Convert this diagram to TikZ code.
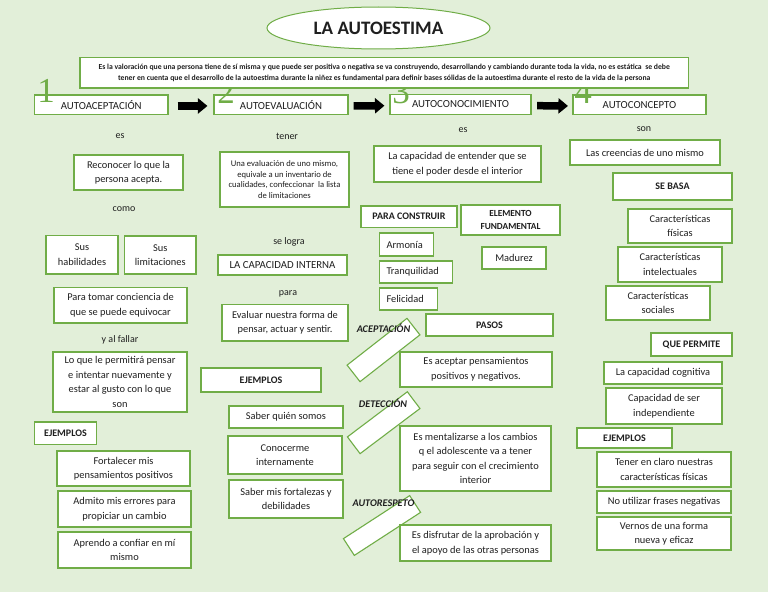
\documentclass[tikz,border=0pt]{standalone}
\usepackage{fontspec}
\setmainfont{Carlito}
\newfontfamily\digitfont{Liberation Serif}
\usetikzlibrary{shapes.geometric,arrows.meta}
\definecolor{bgc}{HTML}{E2EFD9}
\definecolor{gb}{HTML}{70AD47}
\definecolor{txt}{HTML}{1F1F1F}
\newcommand\fs[2]{\fontsize{#1pt}{#2pt}\selectfont}
\newcommand\mybox[7]{\node[box,#1,minimum width={(#5)-(#3)},minimum height={(#6)-(#4)}] (#2) at ({((#3)+(#5))/2},{((#4)+(#6))/2}) {#7};}
\tikzset{
 box/.style={draw=gb, fill=white, line width=1.1pt, inner sep=1pt, align=center, text=txt, font=\fs{10.4}{14.5}},
 hd/.style={font=\fs{10.8}{12}},
 bd/.style={font=\bfseries\fs{10}{12}},
 lbl/.style={text=txt, font=\fs{10}{11}, inner sep=0pt},
 ilbl/.style={text=txt, font=\bfseries\itshape\fs{10.2}{11}, inner sep=0pt},
 num/.style={text=gb, font=\digitfont\fs{35}{35}, anchor=base, inner sep=0pt},
 barrow/.style={line width=7.5pt, -{Triangle[length=9.5pt,width=15pt]}, black},
 tilt/.style={draw=gb, fill=white, line width=1.1pt, inner sep=0pt},
}
\begin{document}
\begin{tikzpicture}[x=1pt,y=-1pt]
\fill[bgc] (0,0) rectangle (768,594);
\useasboundingbox (0,0) rectangle (768,594);
\fill[white] (0,592) rectangle (768,594);

% title
\node[draw=gb, fill=white, ellipse, line width=1pt, minimum width=223, minimum height=42, inner sep=0pt, text=txt, font=\bfseries\fs{19}{22}] (title) at (378.5,28) {LA AUTOESTIMA};

% headings
\mybox{hd}{h1}{34.5}{95}{168}{114.5}{AUTOACEPTACIÓN}
\mybox{hd}{h2}{214}{95}{348}{114.5}{AUTOEVALUACIÓN}
\mybox{hd}{h3}{390}{94.5}{531}{114.5}{AUTOCONOCIMIENTO}
\mybox{hd}{h4}{573}{95}{706}{114.5}{AUTOCONCEPTO}

% numbers
\node[num] (n1) at (46,102.5) {1};
\node[num] (n2) at (226,103) {2};
\node[num] (n3) at (401,103) {3};
\node[num] (n4) at (583,103) {4};

% definition
\mybox{font=\bfseries\fs{7.7}{11}}{def}{80}{57.5}{688.5}{88}{Es la valoración que una persona tiene de sí misma y que puede ser positiva o negativa se va construyendo, desarrollando y cambiando durante toda la vida, no es estática\ \ se debe\\tener en cuenta que el desarrollo de la autoestima durante la niñez es fundamental para definir bases sólidas de la autoestima durante el resto de la vida de la persona}

% arrows
\draw[barrow] ([xshift=9pt,yshift=-1.2pt]h1.east) -- ([xshift=-6pt,yshift=-1.2pt]h2.west);
\draw[barrow] ([xshift=5pt,yshift=-1.2pt]h2.east) -- ([xshift=-5pt,yshift=-1.2pt]h3.west);
\draw[barrow] ([xshift=5.5pt,yshift=-1.2pt]h3.east) -- ([xshift=-4.5pt,yshift=-1.2pt]h4.west);

% column 1
\node[lbl] (les) at (120,136.5) {es};
\mybox{}{c1a}{74}{155}{183}{190}{Reconocer lo que la\\persona acepta.}
\node[lbl] (lcomo) at (124,209.5) {como};
\mybox{}{c1b}{46}{235.5}{118}{274}{Sus\\habilidades}
\mybox{}{c1c}{124.5}{236}{196}{274}{Sus\\limitaciones}
\mybox{}{c1d}{54}{287.5}{187}{323}{Para tomar conciencia de\\que se puede equivocar}
\node[lbl] (lfallar) at (120,340) {y al fallar};
\mybox{}{c1e}{53}{352}{187}{412}{Lo que le permitirá pensar\\e intentar nuevamente y\\estar al gusto con lo que\\son}
\mybox{bd}{c1f}{34.5}{422}{96.5}{444.5}{EJEMPLOS}
\mybox{}{c1g}{57}{451}{190}{486}{Fortalecer mis\\pensamientos positivos}
\mybox{}{c1h}{58}{491}{191}{527}{Admito mis errores para\\propiciar un cambio}
\mybox{}{c1i}{58}{532}{191}{568}{Aprendo a confiar en mí\\mismo}

% column 2
\node[lbl] (ltener) at (287,136.5) {tener};
\mybox{font=\fs{8.6}{10.5}}{c2a}{220}{152}{349}{207}{Una evaluación de uno mismo,\\equivale a un inventario de\\cualidades, confeccionar\ \ la lista\\de limitaciones}
\node[lbl] (llogra) at (289,242) {se logra};
\mybox{hd}{c2b}{218}{255}{347}{275}{LA CAPACIDAD INTERNA}
\node[lbl] (lpara) at (288,294) {para};
\mybox{}{c2c}{222}{304.5}{348}{341}{Evaluar nuestra forma de\\pensar, actuar y sentir.}
\mybox{bd}{c2d}{201}{368}{321}{392}{EJEMPLOS}
\mybox{}{c2e}{229}{406}{343}{428}{Saber quién somos}
\mybox{}{c2f}{228}{436}{342}{474}{Conocerme\\internamente}
\mybox{}{c2g}{229}{480}{343}{518}{Saber mis fortalezas y\\debilidades}

% column 3
\node[lbl] (les2) at (463,130) {es};
\mybox{}{c3a}{374}{146}{541}{182}{La capacidad de entender que se\\tiene el poder desde el interior}
\mybox{bd}{c3b}{361}{206}{457}{227.5}{PARA CONSTRUIR}
\mybox{font=\bfseries\fs{9.3}{12.3}}{c3c}{461}{205}{560}{235}{ELEMENTO\\FUNDAMENTAL}
\node[box, align=left, text width=40, inner xsep=7, minimum height=23, anchor=west] (c3d) at (379,244.5) {Armonía};
\mybox{}{c3e}{482}{247}{546}{269}{Madurez}
\node[box, align=left, text width=59, inner xsep=7, minimum height=22, anchor=west] (c3f) at (379,272) {Tranquilidad};
\node[box, align=left, text width=44, inner xsep=7, minimum height=22, anchor=west] (c3g) at (379,299) {Felicidad};
\mybox{bd}{c3h}{426}{314}{553}{336}{PASOS}
\node[tilt, rotate=38, minimum width=76, minimum height=21] (t1) at (383.5,350) {};
\node[tilt, rotate=37, minimum width=75, minimum height=21] (t2) at (383.7,422.7) {};
\node[tilt, rotate=33, minimum width=79, minimum height=20] (t3) at (382,525.5) {};
\node[ilbl] (i1) at (383.5,328) {ACEPTACIÓN};
\node[ilbl] (i2) at (383,403) {DETECCIÓN};
\node[ilbl] (i3) at (383.5,503) {AUTORESPETO};
\mybox{}{c3i}{400}{352}{552}{387}{Es aceptar pensamientos\\positivos y negativos.}
\mybox{}{c3j}{400}{426}{551}{491}{Es mentalizarse a los cambios\\q el adolescente va a tener\\para seguir con el crecimiento\\interior}
\mybox{}{c3k}{400}{525}{551}{561}{Es disfrutar de la aprobación y\\el apoyo de las otras personas}

% column 4
\node[lbl] (lson) at (644,129) {son};
\mybox{}{c4a}{570}{140}{720}{165}{Las creencias de uno mismo}
\mybox{bd}{c4b}{613}{173}{732}{200}{SE BASA}
\mybox{}{c4c}{628}{209}{732}{243}{Características\\físicas}
\mybox{}{c4d}{618}{247}{722}{282}{Características\\intelectuales}
\mybox{}{c4e}{606}{286}{710}{320}{Características\\sociales}
\mybox{bd}{c4f}{651}{333}{732}{356}{QUE PERMITE}
\mybox{}{c4g}{604}{362}{722}{384}{La capacidad cognitiva}
\mybox{}{c4h}{606}{388}{722}{424}{Capacidad de ser\\independiente}
\mybox{bd}{c4i}{577}{428}{672}{448}{EJEMPLOS}
\mybox{}{c4j}{597}{452}{731}{487}{Tener en claro nuestras\\características físicas}
\mybox{}{c4k}{597}{491}{731}{513}{No utilizar frases negativas}
\mybox{}{c4l}{597}{517}{731}{550}{Vernos de una forma\\nueva y eficaz}
\end{tikzpicture}
\end{document}
